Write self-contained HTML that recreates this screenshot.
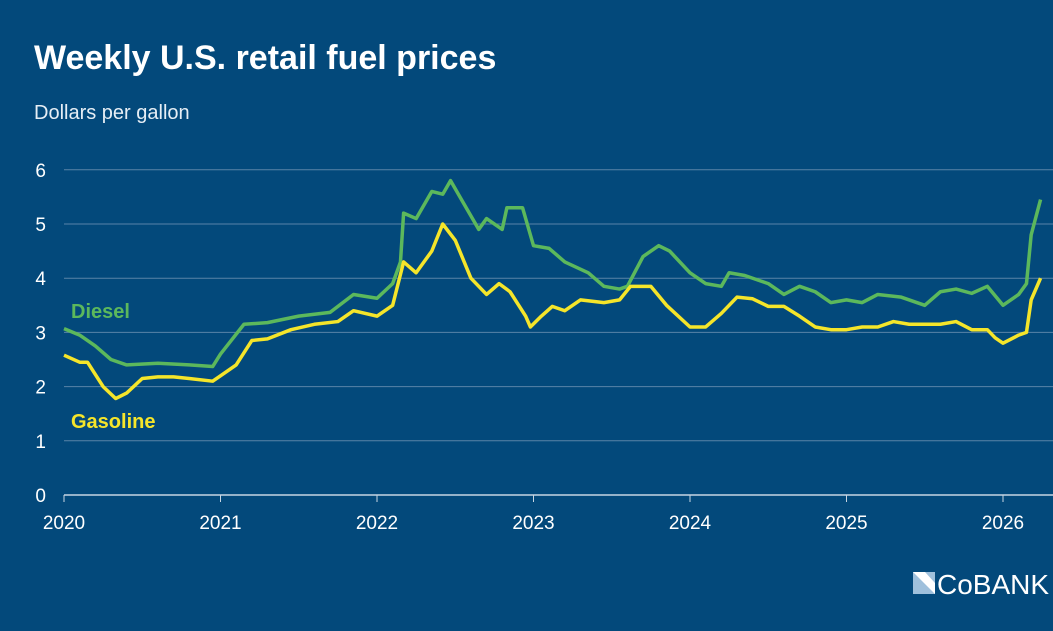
<!DOCTYPE html>
<html><head><meta charset="utf-8"><style>
body{margin:0;width:1053px;height:626px;background:#03497b;overflow:hidden;font-family:"Liberation Sans",sans-serif}
</style></head><body>
<svg width="1053" height="626">
<text x="34" y="69" fill="#fff" font-size="34" font-weight="bold">Weekly U.S. retail fuel prices</text>
<text x="34" y="119" fill="#e6eef5" font-size="20">Dollars per gallon</text>
<g id="grid"></g><g id="xaxis"></g>
<polyline id="diesel" fill="none" stroke="#5cb85c" stroke-width="3.5" stroke-linejoin="round"/>
<polyline id="gas" fill="none" stroke="#f5e52a" stroke-width="3.5" stroke-linejoin="round"/>
<text x="71" y="318" fill="#5cb85c" font-size="20" font-weight="bold">Diesel</text>
<text x="71" y="428" fill="#f5e52a" font-size="20" font-weight="bold">Gasoline</text>
<g>
<rect x="913" y="572" width="22" height="22" fill="#9fc0dc"/>
<polygon points="913,572 925,572 935,583 935,594" fill="#fff"/>
<text x="937" y="594" fill="#fff" font-size="28">CoBANK</text>
</g>
</svg>
<script>
const yTicks=[0,1,2,3,4,5,6];
const xTicks=[2020,2021,2022,2023,2024,2025,2026];
const dieselT=[2020.0,2020.1,2020.2,2020.3,2020.4,2020.6,2020.8,2020.95,2021.0,2021.15,2021.3,2021.5,2021.7,2021.85,2022.0,2022.1,2022.15,2022.17,2022.25,2022.35,2022.42,2022.47,2022.55,2022.65,2022.7,2022.8,2022.83,2022.93,2023.0,2023.1,2023.2,2023.35,2023.45,2023.55,2023.6,2023.7,2023.8,2023.87,2024.0,2024.1,2024.2,2024.25,2024.35,2024.5,2024.6,2024.7,2024.8,2024.9,2025.0,2025.1,2025.2,2025.35,2025.5,2025.6,2025.7,2025.8,2025.9,2026.0,2026.1,2026.15,2026.18,2026.24];
const dieselV=[3.07,2.95,2.75,2.5,2.4,2.43,2.4,2.37,2.6,3.15,3.18,3.3,3.37,3.7,3.63,3.9,4.3,5.2,5.1,5.6,5.55,5.8,5.4,4.9,5.1,4.9,5.3,5.3,4.6,4.55,4.3,4.1,3.85,3.8,3.85,4.4,4.6,4.5,4.1,3.9,3.85,4.1,4.05,3.9,3.7,3.85,3.75,3.55,3.6,3.55,3.7,3.65,3.5,3.75,3.8,3.72,3.85,3.5,3.7,3.9,4.8,5.45];
const gasT=[2020.0,2020.1,2020.15,2020.25,2020.33,2020.4,2020.5,2020.6,2020.7,2020.8,2020.95,2021.0,2021.1,2021.2,2021.3,2021.45,2021.6,2021.75,2021.85,2022.0,2022.1,2022.17,2022.25,2022.35,2022.42,2022.5,2022.6,2022.7,2022.78,2022.85,2022.95,2022.98,2023.05,2023.12,2023.2,2023.3,2023.45,2023.55,2023.62,2023.75,2023.85,2024.0,2024.1,2024.2,2024.3,2024.4,2024.5,2024.6,2024.7,2024.8,2024.9,2025.0,2025.1,2025.2,2025.3,2025.4,2025.5,2025.6,2025.7,2025.8,2025.9,2025.95,2026.0,2026.1,2026.15,2026.18,2026.24];
const gasV=[2.58,2.45,2.45,2.0,1.78,1.88,2.15,2.18,2.18,2.15,2.1,2.2,2.4,2.85,2.88,3.05,3.15,3.2,3.4,3.3,3.5,4.3,4.1,4.5,5.0,4.7,4.0,3.7,3.9,3.75,3.3,3.1,3.3,3.48,3.4,3.6,3.55,3.6,3.85,3.85,3.5,3.1,3.1,3.35,3.65,3.62,3.48,3.48,3.3,3.1,3.05,3.05,3.1,3.1,3.2,3.15,3.15,3.15,3.2,3.05,3.05,2.9,2.8,2.95,3.0,3.6,4.0];
const X=t=>64+(t-2020)*156.5, Y=v=>495-v*54.2;
const NS='http://www.w3.org/2000/svg';
const grid=document.getElementById('grid'), xa=document.getElementById('xaxis');
yTicks.forEach(v=>{
 const l=document.createElementNS(NS,'line');
 l.setAttribute('x1',64);l.setAttribute('x2',1053);l.setAttribute('y1',Y(v));l.setAttribute('y2',Y(v));
 l.setAttribute('stroke',v===0?'#c8d6e3':'#5a84a8');l.setAttribute('stroke-width',v===0?1.5:1);
 
 
 grid.appendChild(l);
 const t=document.createElementNS(NS,'text');
 t.setAttribute('x',46);t.setAttribute('y',Y(v)+7);t.setAttribute('text-anchor','end');
 t.setAttribute('fill','#fff');t.setAttribute('font-size','19');t.textContent=v;
 
 
 grid.appendChild(t);
});
xTicks.forEach(y=>{
 const l=document.createElementNS(NS,'line');
 l.setAttribute('x1',X(y));l.setAttribute('x2',X(y));l.setAttribute('y1',495);l.setAttribute('y2',502);
 l.setAttribute('stroke','#c8d6e3');
 
 
 xa.appendChild(l);
 const t=document.createElementNS(NS,'text');
 t.setAttribute('x',X(y));t.setAttribute('y',529);t.setAttribute('text-anchor','middle');
 t.setAttribute('fill','#fff');t.setAttribute('font-size','19');t.textContent=y;
 
 
 xa.appendChild(t);
});
document.getElementById('diesel').setAttribute('points',dieselT.map((t,i)=>X(t)+','+Y(dieselV[i])).join(' '));
document.getElementById('gas').setAttribute('points',gasT.map((t,i)=>X(t)+','+Y(gasV[i])).join(' '));
</script>
</body></html>
